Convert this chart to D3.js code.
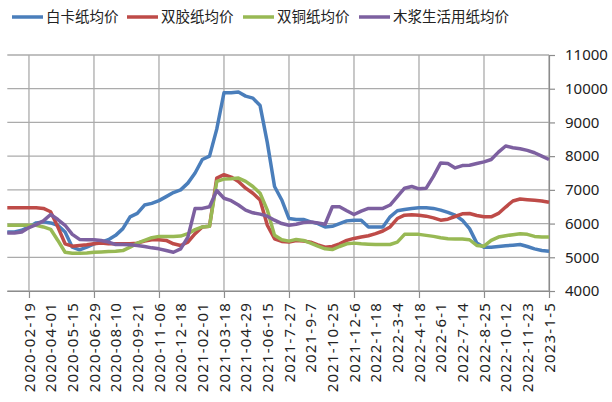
<!DOCTYPE html>
<html><head><meta charset="utf-8">
<script src="https://cdn.jsdelivr.net/npm/d3@7"></script>
<style>
body{margin:0;background:#fff;}
svg{display:block;}
</style></head>
<body>
<svg id="chart" width="612" height="402"></svg>
<script>
const seriesNames = ["白卡纸均价","双胶纸均价","双铜纸均价","木浆生活用纸均价"];
const seriesColors = ["#4a7ebb","#be4b48","#98b954","#7d60a0"];
const xLabels = ["2020-02-19","2020-04-01","2020-05-15","2020-06-29","2020-08-10","2020-09-21","2020-11-06","2020-12-18","2021-02-01","2021-03-18","2021-04-29","2021-06-15","2021-7-27","2021-9-7","2021-10-25","2021-12-6","2022-1-18","2022-3-4","2022-4-18","2022-6-1","2022-7-14","2022-8-25","2022-10-12","2022-11-23","2023-1-5"];
const yTicks = [4000,5000,6000,7000,8000,9000,10000,11000];

const baika = [5750,5750,5800,5900,6020,6050,6020,5950,5750,5300, 5220,5300,5400,5450,5520,5650,5850,6200,6300,6550, 6600,6680,6800,6920,7000,7200,7500,7900,8000,8800, 9880,9880,9900,9780,9720,9500,8400,7100,6700,6150, 6120,6120,6050,6000,5900,5920,6000,6080,6100,6100, 5900,5900,5900,6200,6380,6420,6450,6470,6470,6450, 6400,6330,6250,6100,5850,5420,5300,5300,5320,5340, 5360,5380,5320,5250,5200,5180];
const shuangjiao = [6470,6470,6470,6470,6470,6450,6350,5900,5400,5330, 5350,5370,5400,5420,5400,5400,5400,5400,5420,5480, 5520,5520,5500,5400,5350,5450,5700,5900,5920,7350, 7450,7380,7250,7050,6900,6700,5950,5550,5470,5450, 5500,5480,5450,5370,5300,5320,5400,5500,5560,5600, 5640,5700,5780,5900,6150,6250,6260,6250,6220,6170, 6100,6130,6210,6290,6300,6240,6200,6200,6300,6490, 6670,6730,6710,6690,6670,6630];
const shuangtong = [5950,5950,5950,5950,5950,5900,5830,5500,5150,5120, 5120,5130,5150,5160,5170,5180,5200,5300,5420,5500, 5580,5620,5620,5620,5630,5700,5820,5900,5920,7250, 7320,7330,7350,7250,7100,6900,6400,5650,5520,5480, 5530,5500,5420,5330,5250,5230,5320,5400,5420,5400, 5390,5380,5380,5380,5450,5680,5680,5680,5650,5620, 5580,5550,5540,5540,5520,5350,5330,5500,5600,5640, 5670,5700,5680,5620,5600,5600];
const shenghuo = [5720,5720,5750,5880,5970,6080,6270,6120,5950,5680, 5530,5520,5520,5500,5450,5380,5380,5370,5350,5320, 5280,5250,5200,5150,5250,5600,6450,6450,6500,6980, 6750,6680,6550,6400,6320,6280,6220,6100,6000,5950, 5980,6030,6050,6020,5980,6500,6500,6380,6270,6370, 6450,6450,6450,6550,6800,7050,7100,7030,7050,7400, 7800,7780,7650,7720,7730,7780,7830,7900,8120,8300, 8250,8220,8170,8100,8000,7900];

const allSeries = [baika, shuangjiao, shuangtong, shenghuo];
const stepsPerLabel = 3;
const nPts = baika.length;

const svg = d3.select("#chart");
const pLeft = 7.3, pRight = 549, pTop = 55, pBottom = 291;
const x = d3.scaleLinear().domain([0, nPts - 1]).range([pLeft, pRight]);
const y = d3.scaleLinear().domain([4000, 11000]).range([pBottom, pTop]);

const labelIdx = xLabels.map((d,i) => (i+1)*stepsPerLabel);
const tickIdx = labelIdx.filter((d,i) => i % 3 === 0);

const grid = svg.append("g");
grid.selectAll("line.h").data(yTicks).join("line")
  .attr("x1", pLeft).attr("x2", pRight)
  .attr("y1", d => y(d)).attr("y2", d => y(d))
  .attr("stroke", "#ababab").attr("stroke-width", 1.3);
grid.selectAll("line.v").data(tickIdx).join("line")
  .attr("x1", d => x(d)).attr("x2", d => x(d))
  .attr("y1", pTop).attr("y2", pBottom)
  .attr("stroke", "#ababab").attr("stroke-width", 1.3);

// right axis
const yAxis = svg.append("g").attr("transform", `translate(${pRight},0)`)
  .call(d3.axisRight(y).tickValues(yTicks).tickSize(6).tickPadding(10).tickFormat(d3.format("d")));
yAxis.select(".domain").attr("stroke", "#8c8c8c").attr("stroke-width", 1.2);
yAxis.selectAll(".tick line").attr("stroke", "#8c8c8c").attr("stroke-width", 1.2);
yAxis.selectAll("text").attr("font-family", "'Noto Sans', sans-serif").attr("font-size", 15).attr("fill", "#222");

// bottom axis ticks
const xTickAxis = svg.append("g").attr("transform", `translate(0,${pBottom})`)
  .call(d3.axisBottom(x).tickValues(tickIdx).tickSize(7).tickFormat(""));
xTickAxis.select(".domain").attr("stroke", "#8c8c8c").attr("stroke-width", 1.2).attr("d", `M${pLeft},0.5H${pRight}`);
xTickAxis.selectAll(".tick line").attr("stroke", "#8c8c8c").attr("stroke-width", 1.2);

// bottom axis labels
const xLabAxis = svg.append("g").attr("transform", `translate(0,${pBottom})`)
  .call(d3.axisBottom(x).tickValues(labelIdx).tickSize(0).tickFormat((d,i) => xLabels[i]));
xLabAxis.select(".domain").remove();
xLabAxis.selectAll("text")
  .attr("font-family", "'Noto Sans', sans-serif").attr("font-size", 15).attr("fill", "#222")
  .attr("letter-spacing", 1.2)
  .attr("text-anchor", "end")
  .attr("transform", "rotate(-90)")
  .attr("x", -11).attr("y", 0).attr("dy", "0.35em");

// series lines
const line = d3.line().x((d,i) => x(i)).y(d => y(d));
svg.append("g").selectAll("path").data(allSeries).join("path")
  .attr("d", d => line(d))
  .attr("fill", "none")
  .attr("stroke", (d,i) => seriesColors[i])
  .attr("stroke-width", 3.5)
  .attr("stroke-linejoin", "round");

// legend
const legendX = [12, 127, 243, 359];
const lg = svg.append("g").selectAll("g").data(seriesNames).join("g")
  .attr("transform", (d,i) => `translate(${legendX[i]},17)`);
lg.append("line").attr("x1", 0).attr("x2", 31).attr("y1", 0).attr("y2", 0)
  .attr("stroke", (d,i) => seriesColors[i]).attr("stroke-width", 3.5);
lg.append("text").attr("x", 34).attr("y", 0).attr("dy", "0.36em")
  .attr("font-family", "'Noto Sans CJK SC', sans-serif").attr("font-size", 14.5).attr("fill", "#222")
  .text(d => d);
</script>
</body></html>
